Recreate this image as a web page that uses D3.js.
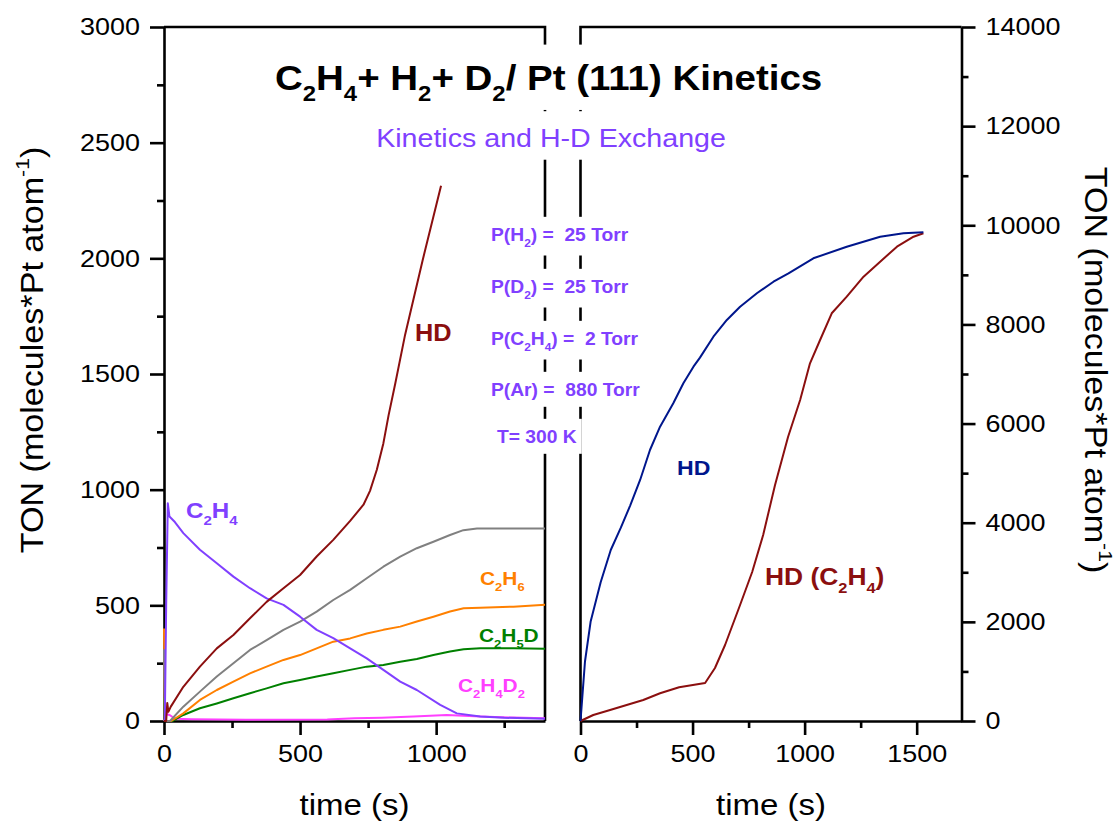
<!DOCTYPE html>
<html>
<head>
<meta charset="utf-8">
<script src="https://cdn.jsdelivr.net/npm/d3@7"></script>
<style>
  body { margin: 0; background: #fff; }
  text { font-family: "Liberation Sans", Arial, Helvetica, sans-serif; white-space: pre; }
</style>
</head>
<body>
<svg id="chart" width="1117" height="827"></svg>
<script>
// ---- data: [time (s), TON] ----
// left panel (0–1400 s)
const hdLeft = [[0,0],[8,0],[12,78],[16,40],[25,62],[71,148],[132,235],[194,314],[255,372],[316,444],[377,515],[439,574],[500,631],[561,711],[622,783],[684,865],[733,935],[757,995],[782,1086],[806,1200],[825,1320],[850,1460],[886,1670],[950,1990],[1018,2314]];
const c2h4 = [[0,0],[3,0],[8,500],[14,941],[20,884],[40,860],[71,812],[132,740],[194,682],[255,624],[316,574],[377,530],[439,502],[500,451],[561,394],[622,358],[684,314],[745,271],[806,221],[868,170],[929,134],[1015,70],[1076,33],[1162,19],[1250,14],[1400,10]];
const ethaneTotal = [[0,310],[3,0],[22,0],[71,62],[132,127],[194,192],[255,250],[316,307],[377,350],[439,394],[500,430],[561,473],[622,523],[684,567],[745,617],[806,667],[868,711],[929,747],[990,775],[1051,804],[1100,825],[1150,832],[1250,832],[1400,832]];
const c2h6 = [[0,400],[3,0],[26,0],[71,33],[132,91],[194,134],[255,170],[316,206],[377,235],[439,264],[500,285],[561,314],[622,343],[684,357],[745,378],[806,394],[868,408],[929,430],[990,451],[1051,473],[1101,487],[1162,490],[1284,494],[1400,502]];
const c2h5d = [[0,100],[3,0],[30,0],[71,26],[132,55],[194,76],[255,98],[316,120],[377,141],[439,163],[500,177],[561,192],[622,206],[684,221],[745,235],[806,242],[868,256],[929,268],[990,285],[1051,300],[1101,310],[1162,314],[1284,314],[1400,312]];
const c2h4d2 = [[0,0],[10,30],[22,25],[40,10],[100,8],[300,5],[600,7],[700,12],[800,14],[917,19],[1039,26],[1162,19],[1284,15],[1400,12]];
// right panel (0–1700 s)
const hdRight = [[0,0],[5,300],[20,1200],[45,2000],[90,2800],[135,3450],[180,3900],[222,4350],[266,4862],[310,5467],[355,5937],[414,6409],[459,6812],[504,7148],[533,7330],[593,7753],[653,8090],[712,8358],[787,8628],[861,8862],[928,9032],[1039,9334],[1188,9568],[1337,9770],[1441,9838],[1530,9859]];
const hdC2h4 = [[0,0],[57,121],[132,222],[206,323],[280,424],[355,559],[440,680],[556,767],[600,1069],[645,1533],[712,2340],[766,3006],[815,3752],[868,4761],[926,5729],[980,6476],[1024,7216],[1069,7686],[1121,8225],[1188,8560],[1263,8963],[1337,9266],[1412,9568],[1486,9770],[1530,9838]];

// axis ticks
const leftYMajor = [0, 500, 1000, 1500, 2000, 2500, 3000];
const leftYMinor = [250, 750, 1250, 1750, 2250, 2750];
const leftXMajor = [0, 500, 1000];
const leftXMinor = [250, 750, 1250];
const rightXMajor = [0, 500, 1000, 1500];
const rightXMinor = [250, 750, 1250];
const rightYMajor = [0, 2000, 4000, 6000, 8000, 10000, 12000, 14000];
const rightYMinor = [1000, 3000, 5000, 7000, 9000, 11000, 13000];

// ---- layout ----
const SX = 1.1;            // horizontal stretch of glyphs along the text direction
const plotTop = 27, plotBottom = 721;
const xL = d3.scaleLinear().domain([0, 1400]).range([164, 545]);
const yL = d3.scaleLinear().domain([0, 3000]).range([plotBottom, plotTop]);
const xR = d3.scaleLinear().domain([0, 1700]).range([580.5, 961.5]);
const yR = d3.scaleLinear().domain([0, 14000]).range([plotBottom, plotTop]);

const svg = d3.select("#chart");
const AXW = 2.6;

// rich text: "_{..}" subscript, "^{..}" superscript
function addRich(textSel, str, size) {
  const re = /([_^])\{([^}]*)\}|([^_^]+)/g;
  let m, cur = 0;
  while ((m = re.exec(str))) {
    let target, fs, content;
    if (m[3] !== undefined) { target = 0; fs = size; content = m[3]; }
    else if (m[1] === "_") { target = size * 0.32; fs = size * 0.62; content = m[2]; }
    else { target = -size * 0.45; fs = size * 0.62; content = m[2]; }
    textSel.append("tspan").attr("dy", target - cur).attr("font-size", fs).text(content);
    cur = target;
  }
}

function label(parent, o) {
  let tf = `translate(${o.x},${o.y})`;
  if (o.rotate) tf += ` rotate(${o.rotate})`;
  tf += ` scale(${SX},1)`;
  const g = parent.append("g").attr("transform", tf);
  const t = g.append("text")
    .attr("font-size", o.size)
    .attr("font-weight", o.weight || "normal")
    .attr("fill", o.color || "#000")
    .attr("text-anchor", o.anchor || "start");
  addRich(t, o.text, o.size);
  if (o.bg) {
    const b = t.node().getBBox();
    g.insert("rect", "text")
      .attr("x", b.x - 4).attr("y", b.y - o.bg[0])
      .attr("width", b.width + 8).attr("height", b.height + o.bg[0] + o.bg[1])
      .attr("fill", "#fff");
  }
  return g;
}

function styleAxis(g, fontSize) {
  g.select(".domain").attr("stroke-width", AXW).attr("stroke", "#000");
  g.selectAll(".tick line").attr("stroke-width", AXW).attr("stroke", "#000");
  g.selectAll(".tick text")
    .attr("font-size", fontSize).attr("fill", "#000")
    .attr("font-family", '"Liberation Sans", Arial, sans-serif')
    .each(function () {
      const t = d3.select(this);
      const x = +t.attr("x") || 0, y = +t.attr("y") || 0;
      t.attr("x", 0).attr("y", 0).attr("transform", `translate(${x},${y}) scale(${SX},1)`);
    });
}

function axisPair(axisFn, scale, major, minor, transform) {
  const gMin = svg.append("g").attr("transform", transform)
    .call(axisFn(scale).tickValues(minor).tickSize(7).tickSizeOuter(0).tickFormat(""));
  gMin.select(".domain").remove();
  styleAxis(gMin, 24);
  const gMaj = svg.append("g").attr("transform", transform)
    .call(axisFn(scale).tickValues(major).tickSize(14).tickSizeOuter(0).tickPadding(10).tickFormat(d3.format("d")));
  styleAxis(gMaj, 24.5);
  return gMaj;
}

// ---- frames ----
const frame = svg.append("g").attr("stroke", "#000").attr("stroke-width", AXW).attr("fill", "none");
frame.append("path").attr("d", `M${xL.range()[0]},${plotTop}H${xL.range()[1]}V${plotBottom}`);
frame.append("path").attr("d", `M${xR.range()[0]},${plotBottom}V${plotTop}H${xR.range()[1]}`);

// ---- axes ----
axisPair(d3.axisLeft, yL, leftYMajor, leftYMinor, `translate(${xL.range()[0]},0)`);
axisPair(d3.axisBottom, xL, leftXMajor, leftXMinor, `translate(0,${plotBottom})`);
axisPair(d3.axisBottom, xR, rightXMajor, rightXMinor, `translate(0,${plotBottom})`);
axisPair(d3.axisRight, yR, rightYMajor, rightYMinor, `translate(${xR.range()[1]},0)`);

// ---- series ----
const seriesLeft = [
  { data: c2h4d2, color: "#ff40ff" },
  { data: c2h5d, color: "#008000" },
  { data: c2h6, color: "#ff8000" },
  { data: ethaneTotal, color: "#808080" },
  { data: c2h4, color: "#8040ff" },
  { data: hdLeft, color: "#8b0f0f" }
];
const seriesRight = [
  { data: hdC2h4, color: "#8b0f0f" },
  { data: hdRight, color: "#00168c" }
];
const lineL = d3.line().x(d => xL(d[0])).y(d => yL(d[1]));
const lineR = d3.line().x(d => xR(d[0])).y(d => yR(d[1]));
svg.append("g").selectAll("path").data(seriesLeft).join("path")
  .attr("d", d => lineL(d.data)).attr("fill", "none")
  .attr("stroke", d => d.color).attr("stroke-width", 2).attr("stroke-linejoin", "round");
svg.append("g").selectAll("path").data(seriesRight).join("path")
  .attr("d", d => lineR(d.data)).attr("fill", "none")
  .attr("stroke", d => d.color).attr("stroke-width", 2).attr("stroke-linejoin", "round");

// ---- texts ----
const purple = "#8040ff";
const lab = svg.append("g");
label(lab, { x: 275, y: 90, text: "C_{2}H_{4}+ H_{2}+ D_{2}/ Pt (111) Kinetics", size: 35, weight: "bold", bg: [14, 4] });
label(lab, { x: 551, y: 147, text: "Kinetics and H-D Exchange", size: 26, anchor: "middle", color: purple, bg: [12, 7] });
const conditions = [
  { text: "P(H_{2}) =  25 Torr", y: 241, x: 491 },
  { text: "P(D_{2}) =  25 Torr", y: 293, x: 491 },
  { text: "P(C_{2}H_{4}) =  2 Torr", y: 345, x: 491 },
  { text: "P(Ar) =  880 Torr", y: 396, x: 491 },
  { text: "T= 300 K", y: 443, x: 497 }
];
conditions.forEach(c => label(lab, { x: c.x, y: c.y, text: c.text, size: 17.5, weight: "bold", color: purple, bg: [8, 7] }));

// series names
label(lab, { x: 415, y: 341, text: "HD", size: 23, weight: "bold", color: "#8b0f0f" });
label(lab, { x: 186, y: 518, text: "C_{2}H_{4}", size: 22, weight: "bold", color: purple });
label(lab, { x: 480, y: 585, text: "C_{2}H_{6}", size: 19, weight: "bold", color: "#ff8000" });
label(lab, { x: 479, y: 642, text: "C_{2}H_{5}D", size: 19, weight: "bold", color: "#008000" });
label(lab, { x: 458, y: 692, text: "C_{2}H_{4}D_{2}", size: 19, weight: "bold", color: "#ff40ff" });
label(lab, { x: 677, y: 475, text: "HD", size: 21, weight: "bold", color: "#00168c" });
label(lab, { x: 765, y: 585, text: "HD (C_{2}H_{4})", size: 24, weight: "bold", color: "#8b0f0f" });

// axis titles
label(lab, { x: (xL.range()[0] + xL.range()[1]) / 2, y: 815, text: "time (s)", size: 30, anchor: "middle" });
label(lab, { x: (xR.range()[0] + xR.range()[1]) / 2, y: 815, text: "time (s)", size: 30, anchor: "middle" });
label(lab, { x: 43, y: 350, text: "TON (molecules*Pt atom^{-1})", size: 31, anchor: "middle", rotate: -90 });
label(lab, { x: 1085, y: 370, text: "TON (molecules*Pt atom^{-1})", size: 31, anchor: "middle", rotate: 90 });
</script>
</body>
</html>
